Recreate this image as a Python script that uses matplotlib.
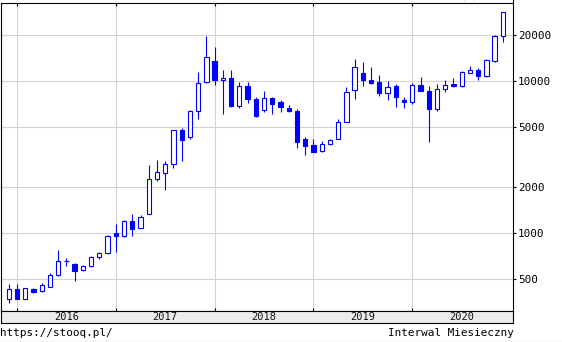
import matplotlib
matplotlib.use("Agg")
import matplotlib.pyplot as plt
from matplotlib.lines import Line2D
import numpy as np

months = ["2015-12",
          "2016-01", "2016-02", "2016-03", "2016-04", "2016-05", "2016-06",
          "2016-07", "2016-08", "2016-09", "2016-10", "2016-11", "2016-12",
          "2017-01", "2017-02", "2017-03", "2017-04", "2017-05", "2017-06",
          "2017-07", "2017-08", "2017-09", "2017-10", "2017-11", "2017-12",
          "2018-01", "2018-02", "2018-03", "2018-04", "2018-05", "2018-06",
          "2018-07", "2018-08", "2018-09", "2018-10", "2018-11", "2018-12",
          "2019-01", "2019-02", "2019-03", "2019-04", "2019-05", "2019-06",
          "2019-07", "2019-08", "2019-09", "2019-10", "2019-11", "2019-12",
          "2020-01", "2020-02", "2020-03", "2020-04", "2020-05", "2020-06",
          "2020-07", "2020-08", "2020-09", "2020-10", "2020-11", "2020-12"]

open_ = [372,
         428, 372, 432, 415, 446, 528, 662, 627, 570, 605, 697, 736,
         1000, 965, 1198, 1084, 1339, 2269, 2483, 2857, 4722, 4270, 6383, 9750,
         13520, 10100, 10410, 6790, 9230, 7590, 6400, 7700, 7250, 6650, 6360, 4150,
         3790, 3450, 3850, 4150, 5370, 8730, 11230, 10100, 9850, 8260, 9270, 7510,
         7250, 9370, 8600, 6490, 8820, 9510, 9180, 11230, 11740, 10680, 13520, 19700]
high = [464,
        464, 440, 435, 468, 544, 774, 686, 636, 623, 704, 751, 980,
        1145, 1215, 1331, 1325, 2787, 3035, 2960, 4790, 4866, 6440, 11375, 19700,
        16690, 11800, 11800, 9850, 9850, 7860, 8600, 7860, 7510, 6930, 6560, 4300,
        4150, 4030, 4150, 5640, 9090, 13860, 13310, 12340, 10940, 10000, 9560, 7810,
        9650, 10570, 9270, 9510, 10150, 10410, 11520, 12540, 12070, 13860, 20000, 28470]
low = [350,
       368, 368, 407, 411, 441, 523, 611, 488, 567, 600, 680, 730,
       755, 951, 960, 1080, 1330, 2189, 1912, 2677, 2975, 4142, 5574, 9650,
       9320, 6020, 6690, 6600, 7110, 5800, 6200, 6020, 6200, 6200, 3610, 3250,
       3400, 3400, 3790, 4120, 5350, 7590, 9180, 9460, 7900, 7430, 6690, 6600,
       7030, 8520, 3990, 6300, 8390, 9090, 9100, 11200, 10050, 10600, 13310, 17900]
close = [428,
         372, 434, 411, 454, 528, 662, 655, 567, 605, 697, 736, 955,
         965, 1204, 1068, 1286, 2279, 2533, 2857, 4722, 4102, 6383, 9735, 14290,
         10050, 10460, 6790, 9230, 7590, 5840, 7700, 7000, 6690, 6300, 3950, 3720,
         3430, 3830, 4090, 5370, 8430, 12290, 10100, 9600, 8260, 9090, 7780, 7210,
         9370, 8600, 6490, 8820, 9370, 9180, 11390, 11740, 10680, 13660, 19700, 28180]

years = ["2016", "2017", "2018", "2019", "2020"]
ytick_values = [500, 1000, 2000, 5000, 10000, 20000]

W, H = 562, 342
fig = plt.figure(figsize=(W / 100, H / 100), dpi=100)
fig.patch.set_facecolor("white")

mono = "DejaVu Sans Mono"
blue = "#0000ff"

# main axes: x 1..513 px, y 3..311 px
ax = fig.add_axes([1 / W, (H - 311) / H, 512 / W, 308 / H])
x = np.arange(len(months)) - 1  # Jan 2016 -> 0
o = np.array(open_, float)
c = np.array(close, float)
hi = np.array(high, float)
lo = np.array(low, float)

ax.vlines(x, lo, hi, color=blue, lw=0.8, zorder=3)
up = c >= o
bottoms = np.minimum(o, c)
heights = np.maximum(np.abs(c - o), 1e-6 * bottoms)
face = np.where(up, "white", blue)
ax.bar(x, heights, bottom=bottoms, width=0.52, color=list(face),
       edgecolor=blue, linewidth=0.8, zorder=4)

ax.set_yscale("log")
ax.set_ylim(308.7, 32390)
ax.set_xlim(-1.94, 60.23)

ax.set_yticks(ytick_values)
ax.set_yticklabels([str(v) for v in ytick_values], fontfamily=mono, fontsize=7.9)
ax.yaxis.set_minor_locator(matplotlib.ticker.NullLocator())
ax.yaxis.tick_right()
ax.tick_params(axis="y", which="major", direction="out", length=2.5, width=0.8,
               pad=1.2, right=True, left=False, labelright=True, labelleft=False)
sec = ax.secondary_yaxis("left")
sec.set_yticks(ytick_values)
sec.yaxis.set_minor_locator(matplotlib.ticker.NullLocator())
sec.tick_params(axis="y", direction="in", length=2.5, width=0.8, labelleft=False)
sec.spines["left"].set_visible(False)

year_pos = [12 * i for i in range(len(years))]
ax.set_xticks(year_pos)
ax.tick_params(axis="x", direction="in", length=2.5, width=0.8, top=True,
               bottom=True, labelbottom=False)
ax.grid(True, color="#d3d3d3", lw=0.8, zorder=0)
ax.set_axisbelow(True)
for s in ax.spines.values():
    s.set_linewidth(0.8)
    s.set_color("black")

# date strip: y 311..323 px
axs = fig.add_axes([1 / W, (H - 323) / H, 512 / W, 12 / H])
axs.set_facecolor("#ececec")
axs.set_xlim(ax.get_xlim())
axs.set_ylim(0, 1)
axs.set_xticks([])
axs.set_yticks([])
for s in axs.spines.values():
    s.set_linewidth(0.8)
for i, yr in enumerate(years):
    axs.text(year_pos[i] + 6, 0.5, yr, ha="center", va="center",
             fontfamily=mono, fontsize=7.5, color="#111111")

# right spine extends to top of figure
fig.add_artist(Line2D([513 / W, 513 / W], [(H - 3) / H, 1.0], color="black", lw=0.8))
# cut-off title remnant at the top edge (as in the reference)
fig.text(470 / W, 1 + 1.0 / H, "(M)", ha="center", va="baseline",
         fontfamily=mono, fontsize=7.9, color="#808080")

fig.text(0 / W, (H - 332.5) / H, "https://stooq.pl/", ha="left", va="center",
         fontfamily=mono, fontsize=7.9, color="black")
fig.text(514 / W, (H - 332.5) / H, "Interwal Miesieczny", ha="right", va="center",
         fontfamily=mono, fontsize=7.9, color="black")
fig.add_artist(Line2D([0, 1], [(H - 341.5) / H, (H - 341.5) / H], color="#d0d0d0", lw=1.0))

fig.savefig("out.png", dpi=100)
